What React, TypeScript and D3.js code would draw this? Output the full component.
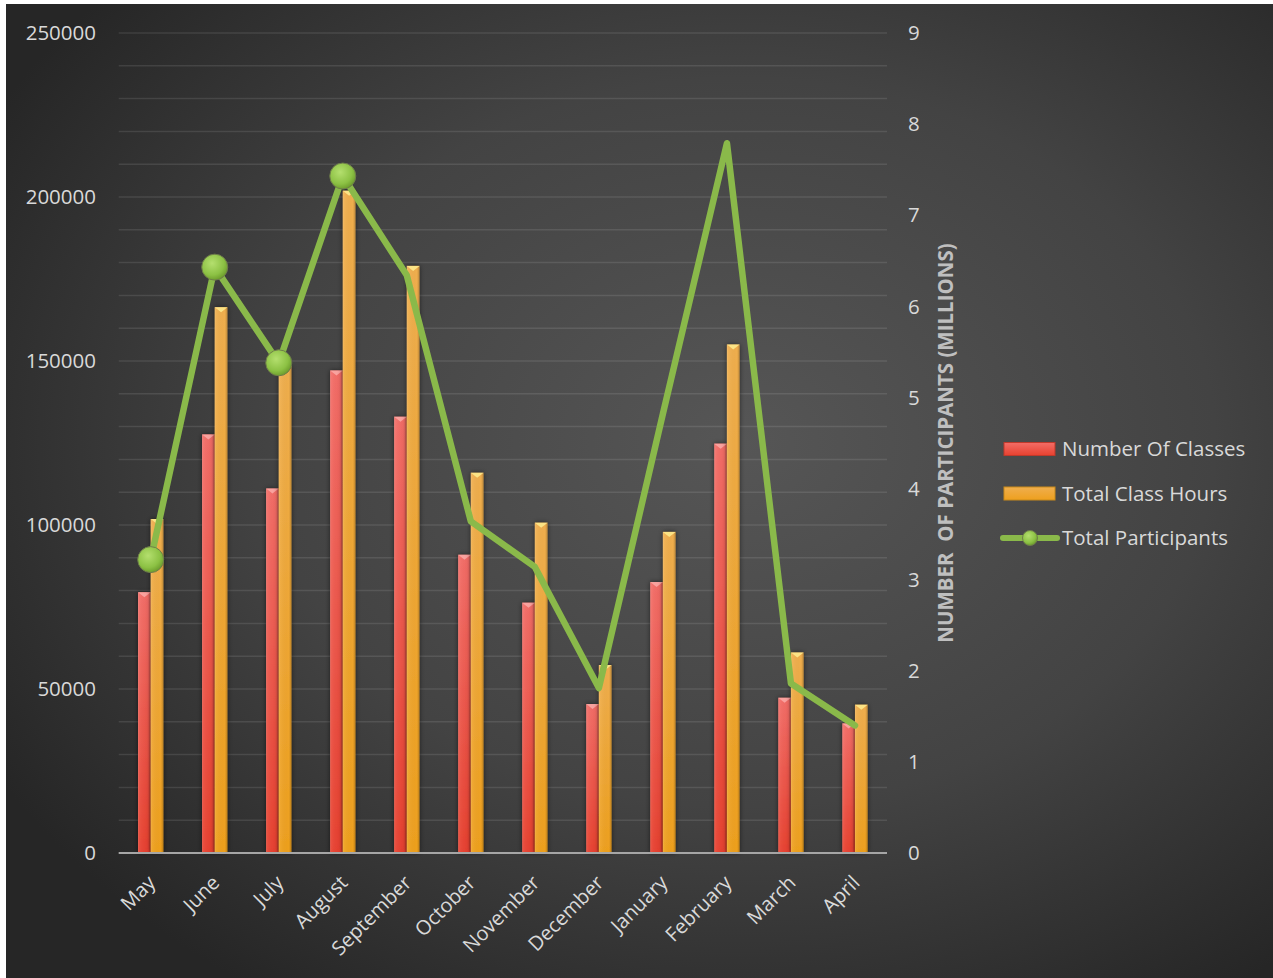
import React from 'react';
import * as d3 from 'd3';

// ── Data ─────────────────────────────────────────────────────────────────────
const months = [
  'May', 'June', 'July', 'August', 'September', 'October',
  'November', 'December', 'January', 'February', 'March', 'April',
];
const numberOfClasses = [79500, 127600, 111100, 147100, 133000, 90900, 76300, 45400, 82600, 124800, 47300, 39500];
const totalClassHours = [101800, 166400, 148500, 201900, 179000, 115900, 100700, 57300, 97900, 155000, 61100, 45200];
const totalParticipants = [3.22, 6.43, 5.38, 7.43, 6.34, 3.64, 3.14, 1.81, 4.82, 7.79, 1.86, 1.40];
const markerMonths = ['May', 'June', 'July', 'August'];
const leftTicks = [0, 50000, 100000, 150000, 200000, 250000];
const rightTicks = [0, 1, 2, 3, 4, 5, 6, 7, 8, 9];

// ── Layout ───────────────────────────────────────────────────────────────────
const W = 1273;
const H = 978;
const PLOT = { left: 118.7, right: 887, top: 33, bottom: 853 };
const FONT = '"Open Sans", Lato, sans-serif';
const TEXT = '#d9d9d9';
const GREEN = '#8ab94a';

export default function App() {
  const x = d3.scaleBand<string>().domain(months).range([PLOT.left, PLOT.right]).padding(0);
  const yL = d3.scaleLinear().domain([0, 250000]).range([PLOT.bottom, PLOT.top]);
  const yR = d3.scaleLinear().domain([0, 9]).range([PLOT.bottom, PLOT.top]);
  const bw = x.bandwidth() * 0.198;
  const cx = (m: string) => (x(m) ?? 0) + x.bandwidth() / 2;

  const line = d3
    .line<number>()
    .x((_, i) => cx(months[i]))
    .y((d) => yR(d));

  const gridTicks = yL.ticks(25);

  const bar = (m: string, v: number, left: number, kind: 'red' | 'orange') => {
    const y0 = yL(v);
    const h = PLOT.bottom - y0;
    const cap = kind === 'red' ? '#f9a7a4' : '#fde98c';
    return (
      <g key={kind + m}>
        <rect x={left} y={y0} width={bw} height={h} fill={`url(#${kind}V)`} filter="url(#barShadow)" />
        <rect x={left} y={y0} width={bw} height={h} fill="url(#bevelH)" />
        <polygon
          points={`${left},${y0} ${left + bw},${y0} ${left + bw / 2},${y0 + 5}`}
          fill={cap}
          opacity={0.9}
        />
      </g>
    );
  };

  return (
    <svg
      width={W}
      height={H}
      style={{ position: 'absolute', left: 0, top: 0, fontFamily: FONT }}
    >
      <defs>
        <radialGradient id="bg" cx="58%" cy="45%" r="68%">
          <stop offset="0%" stopColor="#565656" />
          <stop offset="55%" stopColor="#434343" />
          <stop offset="100%" stopColor="#262626" />
        </radialGradient>
        <linearGradient id="redV" x1="0" y1="0" x2="0" y2="1">
          <stop offset="0%" stopColor="#f36d67" />
          <stop offset="100%" stopColor="#e8412f" />
        </linearGradient>
        <linearGradient id="orangeV" x1="0" y1="0" x2="0" y2="1">
          <stop offset="0%" stopColor="#efae4e" />
          <stop offset="100%" stopColor="#eea01e" />
        </linearGradient>
        <linearGradient id="bevelH" x1="0" y1="0" x2="1" y2="0">
          <stop offset="0%" stopColor="#ffffff" stopOpacity={0.18} />
          <stop offset="12%" stopColor="#ffffff" stopOpacity={0.06} />
          <stop offset="80%" stopColor="#000000" stopOpacity={0} />
          <stop offset="100%" stopColor="#000000" stopOpacity={0.22} />
        </linearGradient>
        <radialGradient id="dot" cx="40%" cy="35%" r="65%">
          <stop offset="0%" stopColor="#b4df6e" />
          <stop offset="70%" stopColor="#8cc144" />
          <stop offset="100%" stopColor="#6f9f2e" />
        </radialGradient>
        <filter id="barShadow" x="-60%" y="-5%" width="220%" height="110%">
          <feDropShadow dx="0" dy="0" stdDeviation="2.5" floodColor="#000" floodOpacity="0.55" />
        </filter>
      </defs>

      {/* Chart area */}
      <rect x={0} y={0} width={W} height={H} fill="#ffffff" />
      <rect x={6} y={4} width={W - 6} height={H - 4} fill="url(#bg)" />

      {/* Grid lines */}
      {gridTicks.map((t) => (
        <line
          key={t}
          x1={PLOT.left}
          x2={PLOT.right}
          y1={yL(t)}
          y2={yL(t)}
          stroke="#ffffff"
          strokeOpacity={0.1}
          strokeWidth={1.5}
        />
      ))}

      {/* Bars */}
      {months.map((m, i) => (
        <g key={m}>
          {bar(m, numberOfClasses[i], cx(m) - bw, 'red')}
          {bar(m, totalClassHours[i], cx(m), 'orange')}
        </g>
      ))}

      {/* Baseline */}
      <line
        x1={PLOT.left}
        x2={PLOT.right}
        y1={PLOT.bottom}
        y2={PLOT.bottom}
        stroke="#a6a6a6"
        strokeWidth={2}
      />

      {/* Participants line */}
      <path
        d={line(totalParticipants) ?? ''}
        fill="none"
        stroke={GREEN}
        strokeWidth={6.5}
        strokeLinejoin="round"
        strokeLinecap="round"
      />
      {months.map((m, i) =>
        markerMonths.includes(m) ? (
          <circle
            key={m}
            cx={cx(m)}
            cy={yR(totalParticipants[i])}
            r={13}
            fill="url(#dot)"
            stroke="#6e7d4a"
            strokeWidth={1}
          />
        ) : null,
      )}

      {/* Left axis labels */}
      {leftTicks.map((t) => (
        <text
          key={t}
          x={96}
          y={yL(t)}
          dy="0.35em"
          textAnchor="end"
          fontSize={20.5}
          fill={TEXT}
        >
          {t}
        </text>
      ))}

      {/* Right axis labels */}
      {rightTicks.map((t) => (
        <text key={t} x={908} y={yR(t)} dy="0.35em" fontSize={20.5} fill={TEXT}>
          {t}
        </text>
      ))}

      {/* Right axis title */}
      <text
        transform={`translate(953, 443) rotate(-90)`}
        textAnchor="middle"
        fontSize={20.5}
        fontWeight="bold"
        fill="#bfbfbf"
        style={{ whiteSpace: 'pre' }}
      >
        {'NUMBER  OF PARTICIPANTS (MILLIONS)'}
      </text>

      {/* X axis labels */}
      {months.map((m) => (
        <text
          key={m}
          transform={`translate(${cx(m) + 6}, ${PLOT.bottom + 31}) rotate(-45)`}
          textAnchor="end"
          fontSize={20}
          fill={TEXT}
        >
          {m}
        </text>
      ))}

      {/* Legend */}
      <g fontSize={20.5} fill={TEXT}>
        <rect x={1004} y={442.5} width={51} height={13} fill="url(#redV)" />
        <rect x={1004} y={442.5} width={51} height={13} fill="none" stroke="#c0392b" strokeWidth={1} />
        <text x={1062} y={449} dy="0.35em">Number Of Classes</text>

        <rect x={1004} y={487} width={51} height={13} fill="url(#orangeV)" />
        <rect x={1004} y={487} width={51} height={13} fill="none" stroke="#c98a1a" strokeWidth={1} />
        <text x={1062} y={493.5} dy="0.35em">Total Class Hours</text>

        <line x1={1003} x2={1057} y1={538} y2={538} stroke={GREEN} strokeWidth={6} strokeLinecap="round" />
        <circle cx={1030} cy={538} r={7.5} fill="url(#dot)" stroke="#6e7d4a" strokeWidth={1} />
        <text x={1062} y={538} dy="0.35em">Total Participants</text>
      </g>
    </svg>
  );
}
